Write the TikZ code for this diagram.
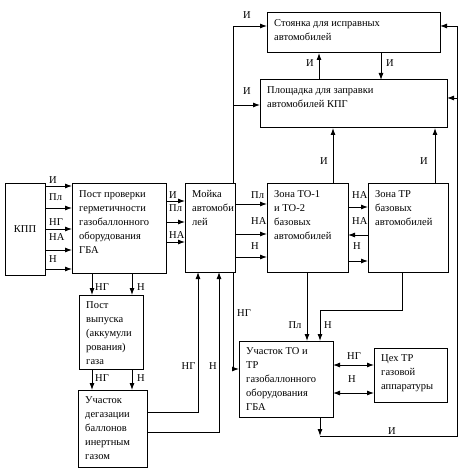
\documentclass[tikz,border=0pt]{standalone}
\usepackage{fontspec}
\setmainfont{Liberation Serif}
\usetikzlibrary{arrows.meta}
\newcommand\blk[6]{%
  \node[box, minimum width={#4-#2}, minimum height={#5-#3}] (#1) at (#2,#3) {};
  \node[txt] (#1t) at ([xshift=7pt, yshift=-6pt]#1.north west) {#6};
}
\begin{document}
\begin{tikzpicture}[x=1pt,y=-1pt,
  box/.style={draw, line width=1pt, anchor=north west, inner sep=0pt, outer sep=0pt},
  txt/.style={anchor=north west, align=left, inner sep=0pt, font=\fontsize{10.5}{14}\selectfont},
  lbl/.style={inner sep=0pt, font=\fontsize{10.5}{12}\selectfont},
  arr/.style={line width=0.9pt, -{Latex[length=7pt,width=5pt]}},
  ln/.style={line width=0.9pt},
  darr/.style={line width=0.9pt, {Latex[length=7pt,width=5pt]}-{Latex[length=7pt,width=5pt]}}
]
\useasboundingbox (0,0) rectangle (463,470);

% boxes
\node[box, minimum width=40, minimum height=91, font=\fontsize{10.5}{12}\selectfont] (kpp) at (5,184) {КПП};
\blk{post}{72}{184}{166}{273}{Пост проверки\\герметичности\\газобаллонного\\оборудования\\ГБА}
\blk{moika}{185}{184}{235}{272}{Мойка\\автомоби\\лей}
\blk{to}{267}{184}{348}{272}{Зона ТО-1\\и ТО-2\\базовых\\автомобилей}
\blk{tr}{368}{184}{448}{272}{Зона ТР\\базовых\\автомобилей}
\blk{stoy}{267}{13}{440}{53}{Стоянка для исправных\\автомобилей}
\blk{plosh}{260}{80}{447}{128}{Площадка для заправки\\автомобилей КПГ}
\blk{vyp}{79}{295}{143}{369}{Пост\\выпуска\\(аккумули\\рования)\\газа}
\blk{deg}{78}{390}{147}{467}{Участок\\дегазации\\баллонов\\инертным\\газом}
\blk{uch}{239}{341}{333}{417}{Участок ТО и\\ТР\\газобаллонного\\оборудования\\ГБА}
\blk{ceh}{374}{348}{447}{402}{Цех ТР\\газовой\\аппаратуры}

% KPP -> post
\foreach \y/\l/\ly in {186/И/180, 208/Пл/197, 229/НГ/222, 250/НА/237, 269/Н/259}{
  \draw[arr] (kpp.east |- 0,\y) -- (post.west |- 0,\y);
  \node[lbl, anchor=west] (lk\y) at (49,\ly) {\l};
}
% post -> moika
\foreach \y/\l/\ly in {201/И/195, 222/Пл/208, 242/НА/235}{
  \draw[arr] (post.east |- 0,\y) -- (moika.west |- 0,\y);
  \node[lbl, anchor=west] (lp\y) at (169,\ly) {\l};
}
% moika -> TO
\foreach \y/\l/\ly in {204/Пл/195, 234/НА/221, 257/Н/246}{
  \draw[arr] (moika.east |- 0,\y) -- (to.west |- 0,\y);
  \node[lbl, anchor=west] (lm\y) at (251,\ly) {\l};
}
% TO <-> TR
\draw[arr] (to.east |- 0,207) -- (tr.west |- 0,207);
\draw[arr] (tr.west |- 0,235) -- (to.east |- 0,235);
\draw[arr] (to.east |- 0,261) -- (tr.west |- 0,261);
\node[lbl, anchor=west] (lt1) at (352,195) {НА};
\node[lbl, anchor=west] (lt2) at (352,221) {НА};
\node[lbl, anchor=west] (lt3) at (353,246) {Н};

% top connections
\draw[arr] (moika.north -| 233,0) |- (stoy.west |- 0,26);
\draw[arr] (233,105) -- (plosh.west |- 0,105);
\node[lbl] (li1) at (247,15) {И};
\node[lbl] (li2) at (247,91) {И};
\draw[arr] (plosh.north -| 319,0) -- (stoy.south -| 319,0);
\draw[arr] (stoy.south -| 381,0) -- (plosh.north -| 381,0);
\node[lbl] (li3) at (310,63) {И};
\node[lbl] (li4) at (390,63) {И};
\draw[arr] (to.north -| 333,0) -- (plosh.south -| 333,0);
\draw[arr] (tr.north -| 435,0) -- (plosh.south -| 435,0);
\node[lbl] (li5) at (324,161) {И};
\node[lbl] (li6) at (424,161) {И};

% left column
\draw[arr] (post.south -| 92,0) -- (vyp.north -| 92,0);
\draw[arr] (post.south -| 132,0) -- (vyp.north -| 132,0);
\node[lbl, anchor=west] (lv1) at (95,287) {НГ};
\node[lbl, anchor=west] (lv2) at (137,287) {Н};
\draw[arr] (vyp.south -| 92,0) -- (deg.north -| 92,0);
\draw[arr] (vyp.south -| 132,0) -- (deg.north -| 132,0);
\node[lbl, anchor=west] (lv3) at (95,378) {НГ};
\node[lbl, anchor=west] (lv4) at (137,378) {Н};

% degas -> moika
\draw[arr] (deg.east |- 0,412) -| (moika.south -| 198,0);
\draw[arr] (deg.east |- 0,432) -| (moika.south -| 219,0);
\node[lbl] (ld1) at (188.5,366) {НГ};
\node[lbl] (ld2) at (213,366) {Н};

% moika -> uch
\draw[arr] (moika.south -| 233,0) |- (uch.west |- 0,369);
\node[lbl] (lu1) at (244,313) {НГ};

% TO, TR -> uch
\draw[arr] (to.south -| 307,0) -- (uch.north -| 307,0);
\draw[arr] (tr.south -| 402,0) -- (402,310) -| (uch.north -| 320,0);
\node[lbl] (lu2) at (295,325) {Пл};
\node[lbl] (lu3) at (328,325) {Н};

% uch <-> ceh
\draw[darr] (uch.east |- 0,365) -- (ceh.west |- 0,365);
\draw[darr] (uch.east |- 0,393) -- (ceh.west |- 0,393);
\node[lbl] (lc1) at (354,356) {НГ};
\node[lbl] (lc2) at (352,379) {Н};

% uch -> back to parking
\coordinate (cb) at (320,436);
\coordinate (cr) at (457,436);
\draw[arr] (uch.south -| cb) -- (cb);
\draw[arr] (cb) -- (cr) |- (stoy.east |- 0,26);
\draw[arr] (457,98) -- (plosh.east |- 0,98);
\node[lbl] (lb1) at (392,431) {И};
\end{tikzpicture}
\end{document}
